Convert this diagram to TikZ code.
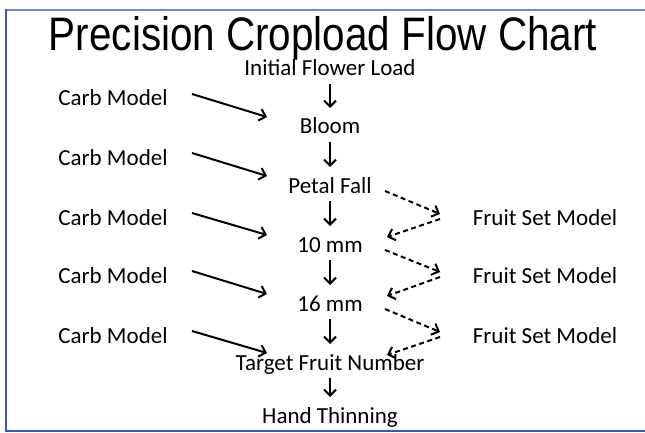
\documentclass[tikz,border=0pt]{standalone}
\usepackage{fontspec}
\setmainfont{Carlito}
\newfontfamily\titlefont{Liberation Sans}
\usetikzlibrary{arrows.meta,calc}
\definecolor{frameblue}{RGB}{60,90,175}
\definecolor{frametop}{RGB}{110,140,200}
\begin{document}
\begin{tikzpicture}[x=1pt,y=-1pt,
  lbl/.style={anchor=base,inner sep=0pt,font=\fontsize{23}{27}\selectfont},
  flow/.style={line width=2pt,-{Straight Barb[length=6pt,width=12pt,line width=2pt]}},
  fset/.style={flow,dash pattern=on 5pt off 3.5pt}]
\useasboundingbox (0,0) rectangle (645,433);
\node[anchor=base,inner sep=0pt] (title) at (323,51) {\scalebox{0.86}[1]{\titlefont\fontsize{47}{50}\selectfont Precision Cropload Flow Chart}};
\node[lbl] (init) at (330,76) {Initial Flower Load};
\node[lbl] (bloom) at (330,134) {Bloom};
\node[lbl] (petal) at (330,193) {Petal Fall};
\node[lbl] (mm10) at (330,252) {10 mm};
\node[lbl] (mm16) at (330,311) {16 mm};
\node[lbl] (target) at (330,370) {Target Fruit Number};
\node[lbl] (hand) at (330,423) {Hand Thinning};
\node[lbl] (carb1) at (113,106) {Carb Model};
\node[lbl] (carb2) at (113,165) {Carb Model};
\node[lbl] (carb3) at (113,225) {Carb Model};
\node[lbl] (carb4) at (113,283) {Carb Model};
\node[lbl] (carb5) at (113,343) {Carb Model};
\node[lbl] (fsm1) at (545,225) {Fruit Set Model};
\node[lbl] (fsm2) at (545,283) {Fruit Set Model};
\node[lbl] (fsm3) at (545,343) {Fruit Set Model};
% main column
\foreach \a/\b in {init/bloom,bloom/petal,petal/mm10,mm10/mm16,mm16/target,target/hand}
  \draw[flow] ($(\a.base)+(0,8)$) -- ($(\b.base)+(0,-26)$);
% carb model arrows
\foreach \a/\b in {carb1/bloom,carb2/petal,carb3/mm10,carb4/mm16,carb5/target}
  \draw[flow] ($(\a.base)+(79,-12)$) -- ($(\b.base)+(-63,-17)$);
% fruit set model arrows
\foreach \a/\f/\b in {petal/fsm1/mm10,mm10/fsm2/mm16,mm16/fsm3/target}{
  \draw[fset] ($(\a.base)+(55,-2)$) -- ($(\f.base)+(-105,-11)$);
  \draw[fset] ($(\f.base)+(-105,-6)$) -- ($(\b.base)+(57,-15)$);
}
% frame
\draw[frametop,line width=1.5pt] (6,10) -- (645,10);
\draw[frameblue,line width=1.5pt] (6,9.25) -- (6,431) -- (645,431);
\end{tikzpicture}
\end{document}
